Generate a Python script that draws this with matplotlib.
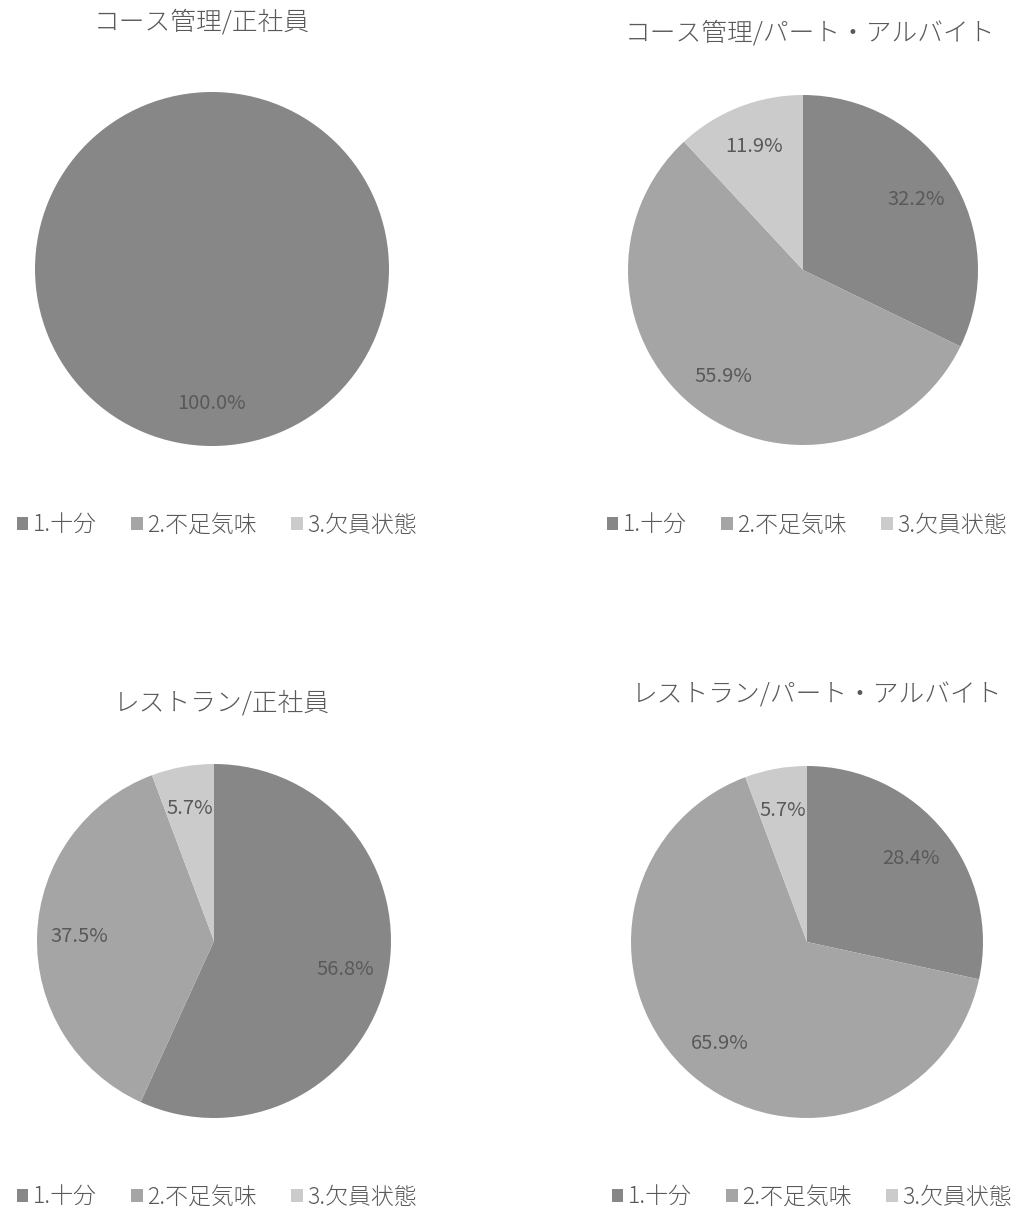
import matplotlib
matplotlib.use("Agg")
import matplotlib.pyplot as plt
from matplotlib.patches import Patch

plt.rcParams['font.family'] = ['Noto Sans CJK JP', 'DejaVu Sans']

categories = ['1.十分', '2.不足気味', '3.欠員状態']
colors = ['#878787', '#a5a5a5', '#cbcbcb']
titles = ['コース管理/正社員', 'コース管理/パート・アルバイト',
          'レストラン/正社員', 'レストラン/パート・アルバイト']
values_course_full = [100.0, 0.0, 0.0]
values_course_part = [32.2, 55.9, 11.9]
values_rest_full = [56.8, 37.5, 5.7]
values_rest_part = [28.4, 65.9, 5.7]
all_values = [values_course_full, values_course_part, values_rest_full, values_rest_part]

W, H = 1018, 1211
fig = plt.figure(figsize=(W / 100, H / 100), dpi=100)
txt = '#595959'

# (center x, center y, radius, title x, title y, legend center x, legend y) in pixels
layout = [
    (212, 269, 177, 202, 22, 217, 525),
    (803, 270, 175, 810, 33, 807, 525),
    (214, 941, 177, 222, 703, 217, 1197),
    (807, 942, 176, 817, 695, 812, 1197),
]

for vals, title, (cx, cy, r, tx, ty, lx, ly) in zip(all_values, titles, layout):
    ax = fig.add_axes([(cx - r) / W, 1 - (cy + r) / H, 2 * r / W, 2 * r / H])
    vis = [(v, c) for v, c in zip(vals, colors) if v > 0]
    wedges, _, autotexts = ax.pie([v for v, _ in vis], colors=[c for _, c in vis],
                                  startangle=90, counterclock=False,
                                  autopct='%1.1f%%', pctdistance=0.76,
                                  wedgeprops=dict(linewidth=0),
                                  textprops=dict(color=txt, fontsize=14.5))
    ax.set_xlim(-1, 1)
    ax.set_ylim(-1, 1)
    ax.set_aspect('equal')
    fig.text(tx / W, 1 - ty / H, title, ha='center', va='center', fontsize=18.5,
             fontweight='light', color=txt)
    handles = [Patch(facecolor=c, edgecolor='none') for c in colors]
    fig.legend(handles, categories, loc='center', bbox_to_anchor=(lx / W, 1 - ly / H),
               ncol=3, frameon=False, prop=dict(size=16.5, weight='light'), labelcolor=txt,
               handlelength=0.5, handleheight=0.5, handletextpad=0.2,
               columnspacing=1.5, borderaxespad=0)

fig.savefig('out.png', dpi=100, facecolor='white')
